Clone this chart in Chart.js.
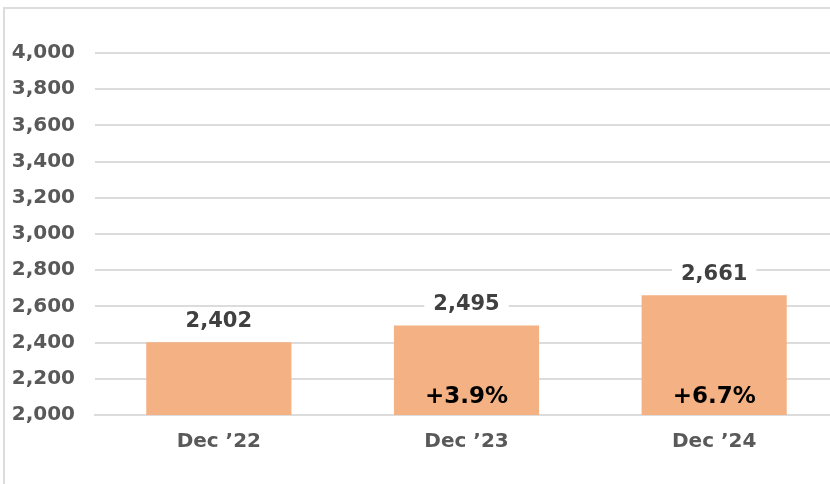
<!DOCTYPE html>
<html>
<head>
<meta charset="utf-8">
<script src="https://cdn.jsdelivr.net/npm/chart.js@4"></script>
<style>
  html, body { margin: 0; padding: 0; overflow: hidden; background: #fff; }
  .frame { position: absolute; left: 3px; top: 7px; width: 900px; height: 600px; border: 2px solid #dcdcdc; }
  #chart { position: absolute; left: 0; top: 0; }
</style>
</head>
<body>
<div class="frame"></div>
<canvas id="chart" width="838" height="484"></canvas>
<script>
// data
const categories = ['Dec \u201922', 'Dec \u201923', 'Dec \u201924']
const values = [2402, 2495, 2661]
const changes = ['', '+3.9%', '+6.7%']
const yTicks = [2000, 2200, 2400, 2600, 2800, 3000, 3200, 3400, 3600, 3800, 4000]

const FONT = '"DejaVu Sans", sans-serif'

/* value + change labels */
const barLabels = {
  id: 'barLabels',
  afterDatasetsDraw(chart){
    const ctx = chart.ctx
    const meta = chart.getDatasetMeta(0)
    const bottom = chart.scales.y.getPixelForValue(chart.scales.y.min)
    ctx.save()
    ctx.textAlign = 'center'
    ctx.textBaseline = 'middle'
    meta.data.forEach((bar, i) => {
      // value above bar, white box behind it
      const txt = values[i].toLocaleString('en-US')
      ctx.font = 'bold 21px ' + FONT
      const w = ctx.measureText(txt).width
      const y = bar.y - 21
      ctx.fillStyle = '#fff'
      ctx.fillRect(bar.x - w / 2 - 9, y - 13, w + 18, 26)
      ctx.fillStyle = '#404040'
      ctx.fillText(txt, bar.x, y)

      // change inside bar
      if(changes[i]){
        ctx.font = 'bold 23px ' + FONT
        ctx.fillStyle = '#000'
        ctx.fillText(changes[i], bar.x, bottom - 18)
      }
    })
    ctx.restore()
  }
}

const ctx = document.getElementById('chart').getContext('2d')
new Chart(ctx, {
  type: 'bar',
  data: {
    labels: categories,
    datasets: [{
      data: values,
      backgroundColor: '#F4B183',
      categoryPercentage: 1,
      barPercentage: 0.586
    }]
  },
  options: {
    responsive: false,
    animation: false,
    layout: { padding: { top: 53, right: 0, left: 0, bottom: 0 } },
    plugins: {
      legend: { display: false },
      tooltip: { enabled: false }
    },
    scales: {
      x: {
        grid: { display: false, drawTicks: false },
        border: { color: '#dcdcdc', width: 2 },
        ticks: { color: '#595959', font: { family: FONT, size: 20, weight: 'bold' }, padding: 15 },
        afterFit(scale){ scale.height = 69 }
      },
      y: {
        min: 2000,
        max: 4000,
        afterBuildTicks(scale){ scale.ticks = yTicks.map(v => ({ value: v })) },
        grid: { color: '#dcdcdc', lineWidth: 2, drawTicks: false },
        border: { display: false },
        ticks: {
          color: '#595959',
          font: { family: FONT, size: 20, weight: 'bold' },
          padding: 20,
          callback: v => v.toLocaleString('en-US')
        },
        afterFit(scale){ scale.width = 95 }
      }
    }
  },
  plugins: [barLabels]
})
</script>
</body>
</html>
